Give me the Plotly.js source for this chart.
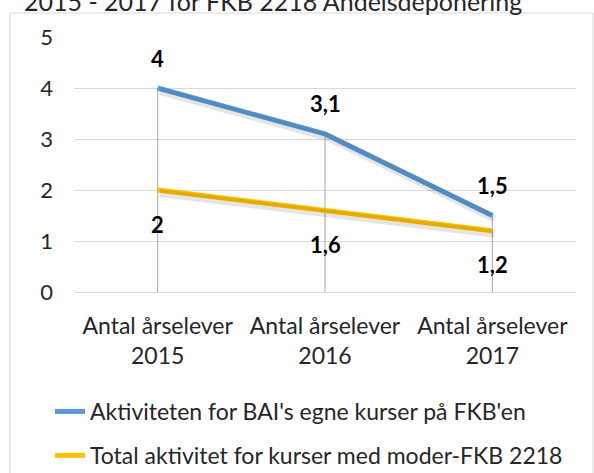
<!DOCTYPE html>
<html>
<head>
<meta charset="utf-8">
<script src="https://cdn.plot.ly/plotly-3.0.1.min.js"></script>
<style>html,body{margin:0;padding:0;background:#fff;}#chart{width:594px;height:473px;}</style>
</head>
<body>
<div id="chart"></div>
<script>
const categories = ['2015', '2016', '2017'];
const tickLabels = ['Antal årselever<br>2015', 'Antal årselever<br>2016', 'Antal årselever<br>2017'];
const seriesNames = ["Aktiviteten for BAI's egne kurser på FKB'en", 'Total aktivitet for kurser med moder-FKB 2218'];
const baiValues = [4, 3.1, 1.5];
const totalValues = [2, 1.6, 1.2];
const chartTitle = '2015 - 2017 för FKB 2218 Andelsdeponering';

const W = 594, H = 473;
const M = {l: 74, r: 18, t: 37, b: 181, autoexpand: false};
const plotW = W - M.l - M.r, plotH = H - M.t - M.b;
const px2x = p => (p - M.l) / plotW;
const px2y = p => (H - M.b - p) / plotH;
const FONT = 'Lato, "Noto Sans", sans-serif';
const BLUE = '#5B9BD5', YELLOW = '#FFC000';
const fmt = v => String(v).replace('.', ',');

// drop lines from axis to highest point of each category
const dropX = [], dropY = [];
categories.forEach((c, i) => {
  dropX.push(c, c, null);
  dropY.push(0, Math.max(baiValues[i], totalValues[i]), null);
});

// shadow axes shifted by a few pixels
const dxU = 2 * 3 / plotW, dyU = 3 * 5 / plotH;

const traces = [
  {x: dropX, y: dropY, mode: 'lines', line: {color: '#a6a6a6', width: 1}, showlegend: false, hoverinfo: 'skip'},
  {x: categories, y: baiValues, xaxis: 'x2', yaxis: 'y2', mode: 'lines', line: {color: 'rgba(0,0,0,0.10)', width: 8}, showlegend: false, hoverinfo: 'skip'},
  {x: categories, y: totalValues, xaxis: 'x2', yaxis: 'y2', mode: 'lines', line: {color: 'rgba(0,0,0,0.10)', width: 8}, showlegend: false, hoverinfo: 'skip'},
  {x: categories, y: baiValues, name: seriesNames[0], legendgroup: 'a', mode: 'lines', line: {color: BLUE, width: 5}},
  {x: categories, y: totalValues, name: seriesNames[1], legendgroup: 'b', mode: 'lines', line: {color: YELLOW, width: 5}}
];

const annotations = [];
categories.forEach((c, i) => {
  annotations.push({x: i, y: baiValues[i], xref: 'x', yref: 'y', text: '<b>' + fmt(baiValues[i]) + '</b>', showarrow: false, yshift: 30, font: {family: FONT, size: 22, color: '#000'}});
  annotations.push({x: i, y: totalValues[i], xref: 'x', yref: 'y', text: '<b>' + fmt(totalValues[i]) + '</b>', showarrow: false, yshift: -34, font: {family: FONT, size: 22, color: '#000'}});
});
annotations.push({xref: 'paper', yref: 'paper', x: px2x(273), y: px2y(18), xanchor: 'center', yanchor: 'bottom', text: chartTitle, showarrow: false, font: {family: FONT, size: 25, color: '#262626'}});

const layout = {
  width: W, height: H, margin: M,
  paper_bgcolor: '#fff', plot_bgcolor: '#fff',
  showlegend: true,
  legend: {x: px2x(50), y: px2y(390), xanchor: 'left', yanchor: 'top', orientation: 'v', traceorder: 'grouped', tracegroupgap: 11, font: {family: FONT, size: 23, color: '#262626'}, bgcolor: 'rgba(0,0,0,0)'},
  xaxis: {type: 'category', range: [-0.5, 2.5], showgrid: false, zeroline: false, showline: true, linecolor: '#d9d9d9', linewidth: 1, ticks: '', tickvals: categories, ticktext: tickLabels, tickfont: {family: FONT, size: 23, color: '#262626'}, ticklabelstandoff: 13, automargin: false, fixedrange: true},
  yaxis: {range: [0, 5], dtick: 1, tick0: 0, showgrid: true, gridcolor: '#d9d9d9', gridwidth: 1, zeroline: false, showline: false, ticks: '', tickfont: {family: FONT, size: 22, color: '#262626'}, ticklabelstandoff: 20, automargin: false, fixedrange: true},
  xaxis2: {type: 'category', overlaying: 'x', range: [-0.5 - dxU, 2.5 - dxU], visible: false, fixedrange: true},
  yaxis2: {overlaying: 'y', range: [dyU, 5 + dyU], visible: false, fixedrange: true},
  shapes: [{type: 'rect', xref: 'paper', yref: 'paper', x0: px2x(10), x1: px2x(593), y0: px2y(490), y1: px2y(13), line: {color: '#d9d9d9', width: 1}, layer: 'below'}],
  annotations: annotations
};

Plotly.newPlot('chart', traces, layout, {staticPlot: true, displayModeBar: false});
</script>
</body>
</html>
